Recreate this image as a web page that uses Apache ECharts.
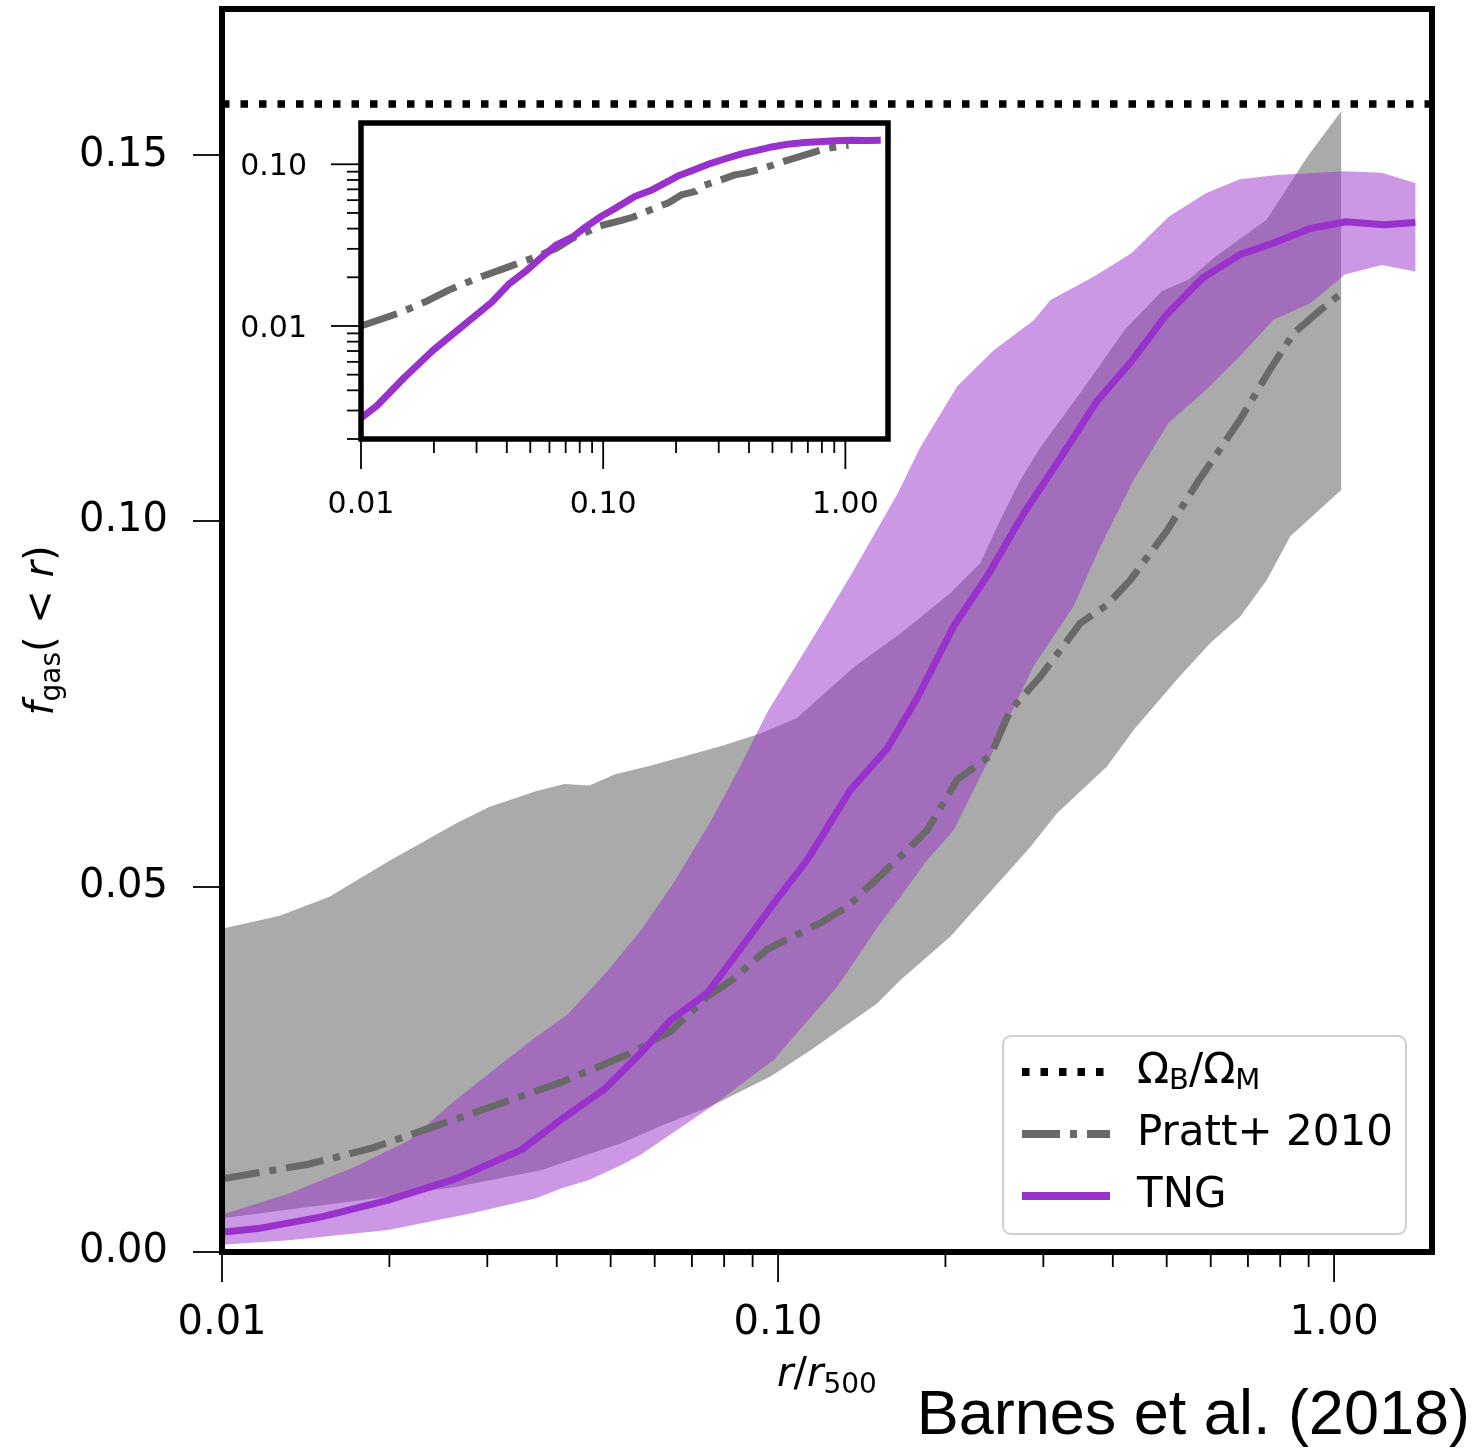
<!DOCTYPE html>
<html>
<head>
<meta charset="utf-8">
<script src="https://cdn.jsdelivr.net/npm/echarts@6/dist/echarts.min.js"></script>
<style>
  html, body { margin: 0; padding: 0; background: #ffffff; }
  #chart { width: 1473px; height: 1452px; }
</style>
</head>
<body>
<div id="chart"></div>
<script>
// ---- Gas fraction profiles, f_gas(<r) against r/r500 ----

// TNG median profile
const tngR = [0.01, 0.0116, 0.0151, 0.0199, 0.0263, 0.0346, 0.0407, 0.0486, 0.0558, 0.0641, 0.0746, 0.0845, 0.0983, 0.1128, 0.135, 0.157, 0.178, 0.207, 0.238, 0.2765, 0.322, 0.3757, 0.432, 0.497, 0.58, 0.677, 0.778, 0.908, 1.052, 1.227, 1.40];
const tngF = [0.0027, 0.0032, 0.0048, 0.0071, 0.0100, 0.0140, 0.0181, 0.0222, 0.0267, 0.0317, 0.0354, 0.0409, 0.0477, 0.0536, 0.0632, 0.0688, 0.0758, 0.0856, 0.0925, 0.1010, 0.1086, 0.1165, 0.1218, 0.1280, 0.1332, 0.1364, 0.1380, 0.1400, 0.1409, 0.1405, 0.1408];

// TNG scatter band (upper and lower edges)
const tngUpR = [0.01, 0.0132, 0.0174, 0.0217, 0.0263, 0.0362, 0.0419, 0.0493, 0.0564, 0.0644, 0.0757, 0.0852, 0.0959, 0.116, 0.135, 0.164, 0.180, 0.21, 0.244, 0.288, 0.309, 0.37, 0.432, 0.504, 0.588, 0.677, 0.789, 1.045, 1.218, 1.40];
const tngUpF = [0.0051, 0.0080, 0.0117, 0.0153, 0.0208, 0.0291, 0.0325, 0.0384, 0.0438, 0.0501, 0.0589, 0.0662, 0.0740, 0.0842, 0.0925, 0.1037, 0.1100, 0.1184, 0.1233, 0.1274, 0.1302, 0.1334, 0.1366, 0.1416, 0.1448, 0.1467, 0.1473, 0.1478, 0.1476, 0.1462];
const tngLoR = [0.01, 0.0132, 0.0199, 0.0281, 0.0366, 0.0407, 0.0456, 0.0523, 0.0566, 0.0756, 0.0983, 0.1278, 0.1529, 0.166, 0.1855, 0.207, 0.241, 0.288, 0.34, 0.38, 0.436, 0.504, 0.588, 0.677, 0.778, 0.908, 1.045, 1.218, 1.40];
const tngLoF = [0.0010, 0.0016, 0.0030, 0.0053, 0.0073, 0.0087, 0.0098, 0.0119, 0.0133, 0.0198, 0.0263, 0.0363, 0.0450, 0.0486, 0.0536, 0.0577, 0.0678, 0.0801, 0.0883, 0.0965, 0.1056, 0.1134, 0.1179, 0.1225, 0.1275, 0.1298, 0.1337, 0.1350, 0.1341];

// Pratt et al. 2010 observed profile
const prattR = [0.01, 0.0143, 0.0186, 0.0229, 0.0298, 0.0407, 0.0536, 0.0641, 0.0746, 0.0833, 0.0956, 0.1192, 0.1332, 0.1615, 0.1855, 0.21, 0.241, 0.2617, 0.2963, 0.3497, 0.3904, 0.43, 0.5, 0.574, 0.677, 0.767, 0.847, 0.947, 1.03];
const prattF = [0.0100, 0.0120, 0.0142, 0.0166, 0.0196, 0.0232, 0.0270, 0.0302, 0.0349, 0.0374, 0.0414, 0.0450, 0.0472, 0.0532, 0.0577, 0.0646, 0.0679, 0.0741, 0.0787, 0.0860, 0.0885, 0.0919, 0.0986, 0.1058, 0.1138, 0.1207, 0.1257, 0.1289, 0.1311];

// Pratt et al. 2010 scatter band
const prattUpR = [0.01, 0.0127, 0.0156, 0.020, 0.0265, 0.0303, 0.0367, 0.0413, 0.0458, 0.0508, 0.0589, 0.0791, 0.093, 0.108, 0.137, 0.166, 0.204, 0.231, 0.251, 0.2728, 0.296, 0.355, 0.42, 0.49, 0.548, 0.613, 0.757, 0.895, 1.03];
const prattUpF = [0.0442, 0.0460, 0.0486, 0.0535, 0.0587, 0.0609, 0.0630, 0.0640, 0.0638, 0.0653, 0.0665, 0.0692, 0.0709, 0.0730, 0.0800, 0.0846, 0.0901, 0.0942, 0.1001, 0.1056, 0.1100, 0.1182, 0.1261, 0.1314, 0.1330, 0.1362, 0.1412, 0.1498, 0.1560];
const prattLoR = [0.01, 0.0179, 0.0263, 0.0376, 0.0523, 0.0632, 0.0756, 0.0969, 0.1144, 0.1507, 0.166, 0.204, 0.2843, 0.3175, 0.3904, 0.436, 0.5216, 0.599, 0.678, 0.757, 0.834, 1.03];
const prattLoF = [0.0046, 0.0071, 0.0089, 0.0112, 0.0149, 0.0176, 0.0199, 0.0240, 0.0276, 0.0340, 0.0372, 0.0431, 0.0554, 0.0600, 0.0664, 0.0714, 0.0783, 0.0833, 0.0869, 0.0919, 0.0979, 0.1042];

// Cosmic baryon fraction
const omegaRatio = 0.157;
const omegaSpan = [0.01, 1.5];

// Axis ranges and ticks
const rRange = [0.01, 1.5];
const fRange = [0, 0.17];
const insetFRange = [0.002, 0.18];
const rMajorTicks = [0.01, 0.1, 1];
const rMajorLabels = ['0.01', '0.10', '1.00'];
const rMinorTicks = [0.02, 0.03, 0.04, 0.05, 0.06, 0.07, 0.08, 0.09, 0.2, 0.3, 0.4, 0.5, 0.6, 0.7, 0.8, 0.9];
const fTicks = [0, 0.05, 0.10, 0.15];
const insetFMajorTicks = [0.01, 0.1];
const insetFMajorLabels = ['0.01', '0.10'];
const insetFMinorTicks = [0.002, 0.003, 0.004, 0.005, 0.006, 0.007, 0.008, 0.009, 0.02, 0.03, 0.04, 0.05, 0.06, 0.07, 0.08, 0.09];

const seriesNames = ['Ω_B/Ω_M', 'Pratt+ 2010', 'TNG'];
const legendLabels = {
  'Ω_B/Ω_M': '{gap| }Ω{sub|B}/Ω{sub|M}',
  'Pratt+ 2010': '{gap| }Pratt+ 2010',
  'TNG': '{gap| }TNG'
};

// ---- styling ----
const FONT = '"DejaVu Sans", "Noto Sans", sans-serif';
const PURPLE = '#9932CC';
const PURPLE_FILL = 'rgba(153, 50, 204, 0.5)';
const GREY_FILL = '#AAAAAA';
const GREY_LINE = '#696969';
const DASHDOT = [38, 10, 7, 10];
const DOTTED = [7.5, 11];

const pairs = (xs, ys) => xs.map((x, i) => [x, ys[i]]);

// closed polygon between an upper and a lower edge
function bandItem(upR, upF, loR, loF, fill) {
  return function (params, api) {
    const pts = [];
    for (let i = 0; i < upR.length; i++) pts.push(api.coord([upR[i], upF[i]]));
    for (let i = loR.length - 1; i >= 0; i--) pts.push(api.coord([loR[i], loF[i]]));
    return { type: 'polygon', shape: { points: pts }, style: { fill: fill } };
  };
}

function textStyle(txt, size, align, vAlign) {
  return {
    text: txt, fontSize: size, fontFamily: FONT,
    font: size + 'px ' + FONT,
    fill: '#000', textFill: '#000',
    align: align, textAlign: align,
    verticalAlign: vAlign, textVerticalAlign: vAlign
  };
}

// ticks hanging below a log x axis, optionally labelled
function xTickItem(len, labels, size, labelOffset) {
  return function (params, api) {
    const p = api.coord([api.value(0), api.value(1)]);
    const children = [{
      type: 'line',
      shape: { x1: p[0], y1: p[1], x2: p[0], y2: p[1] + len },
      style: { stroke: '#000', lineWidth: 1.8 }
    }];
    if (labels) {
      children.push({ type: 'text', x: p[0], y: p[1] + labelOffset,
        style: textStyle(labels[params.dataIndex], size, 'center', 'middle') });
    }
    return { type: 'group', children: children };
  };
}

// ticks left of a log y axis, optionally labelled
function yTickItem(len, labels, size, labelOffset) {
  return function (params, api) {
    const p = api.coord([api.value(0), api.value(1)]);
    const children = [{
      type: 'line',
      shape: { x1: p[0] - len, y1: p[1], x2: p[0], y2: p[1] },
      style: { stroke: '#000', lineWidth: 1.8 }
    }];
    if (labels) {
      children.push({ type: 'text', x: p[0] - labelOffset, y: p[1] + 3,
        style: textStyle(labels[params.dataIndex], size, 'right', 'middle') });
    }
    return { type: 'group', children: children };
  };
}

function tickSeries(xIdx, yIdx, data, renderItem) {
  return { type: 'custom', xAxisIndex: xIdx, yAxisIndex: yIdx, silent: true,
    clip: false, z: 3, data: data, renderItem: renderItem };
}

function lineSeries(name, xIdx, yIdx, data, color, width, dash) {
  return {
    name: name, type: 'line', xAxisIndex: xIdx, yAxisIndex: yIdx,
    data: data, symbol: 'none', showSymbol: false, silent: true, clip: true,
    emphasis: { disabled: true },
    itemStyle: { color: color, opacity: 0 },
    lineStyle: { color: color, width: width, type: dash || 'solid', cap: 'butt', join: 'round' }
  };
}

const chart = echarts.init(document.getElementById('chart'), null, { renderer: 'canvas' });

const option = {
  animation: false,
  backgroundColor: '#ffffff',
  grid: [
    { left: 222, right: 41, top: 9, bottom: 200, show: true, z: 10,
      backgroundColor: 'transparent', borderColor: '#000', borderWidth: 6 },
    { left: 361, right: 585, top: 123, bottom: 1013, show: true, z: 10,
      backgroundColor: 'transparent', borderColor: '#000', borderWidth: 5.5 }
  ],
  xAxis: [
    {
      type: 'log', logBase: 10, gridIndex: 0, min: rRange[0], max: rRange[1],
      axisLine: { show: false }, axisTick: { show: false }, axisLabel: { show: false },
      splitLine: { show: false }, minorTick: { show: false },
      name: '{it|r}/{it|r}{sub|500}', nameLocation: 'middle', nameGap: 100,
      nameTextStyle: {
        fontSize: 40, fontFamily: FONT, color: '#000', lineHeight: 48,
        rich: {
          it: { fontSize: 40, fontStyle: 'italic', fontFamily: FONT, lineHeight: 48 },
          sub: { fontSize: 28, fontFamily: FONT, lineHeight: 26, verticalAlign: 'bottom' }
        }
      }
    },
    {
      type: 'log', logBase: 10, gridIndex: 1, min: rRange[0], max: rRange[1],
      axisLine: { show: false }, axisTick: { show: false }, axisLabel: { show: false },
      splitLine: { show: false }
    }
  ],
  yAxis: [
    {
      type: 'value', gridIndex: 0, min: fRange[0], max: fRange[1], interval: 0.05,
      axisLine: { show: false },
      axisTick: { show: true, inside: false, length: 29, customValues: fTicks,
        lineStyle: { color: '#000', width: 1.8 } },
      axisLabel: { show: true, customValues: fTicks, margin: 54, fontSize: 40,
        fontFamily: FONT, color: '#000', padding: [6, 0, 0, 0], formatter: v => v.toFixed(2) },
      splitLine: { show: false },
      name: '{it|f}{sub|gas}( < {it|r})', nameLocation: 'middle', nameRotate: 90, nameGap: 155,
      nameTextStyle: {
        fontSize: 40, fontFamily: FONT, color: '#000', lineHeight: 48,
        rich: {
          it: { fontSize: 40, fontStyle: 'italic', fontFamily: FONT, lineHeight: 48 },
          sub: { fontSize: 28, fontFamily: FONT, lineHeight: 26, verticalAlign: 'bottom' }
        }
      }
    },
    {
      type: 'log', logBase: 10, gridIndex: 1, min: insetFRange[0], max: insetFRange[1],
      axisLine: { show: false }, axisTick: { show: false }, axisLabel: { show: false },
      splitLine: { show: false }
    }
  ],
  legend: {
    show: true, orient: 'vertical', left: 1003, top: 1036,
    data: seriesNames, selectedMode: false,
    backgroundColor: 'rgba(255,255,255,0.85)', borderColor: '#cfcfcf', borderWidth: 2,
    borderRadius: 8, padding: [12, 13, 14, 15],
    itemWidth: 88, itemHeight: 20, itemGap: 14,
    itemStyle: { opacity: 0 },
    lineStyle: { width: 8 },
    formatter: name => legendLabels[name],
    textStyle: {
      fontSize: 42, fontFamily: FONT, color: '#000', lineHeight: 48,
      rich: {
        gap: { width: 22, fontSize: 42, lineHeight: 48 },
        sub: { fontSize: 29, fontFamily: FONT, lineHeight: 26, verticalAlign: 'bottom' }
      }
    }
  },
  graphic: [
    { type: 'text', x: 1470, y: 1417, z: 20, silent: true,
      style: {
        text: 'Barnes et al. (2018)', fontSize: 63, fontFamily: '"Liberation Sans", Arial, sans-serif',
        font: '63px "Liberation Sans", Arial, sans-serif',
        fill: '#000', textFill: '#000', align: 'right', textAlign: 'right',
        verticalAlign: 'middle', textVerticalAlign: 'middle'
      } }
  ],
  series: [
    // main panel: bands and profiles
    { type: 'custom', name: 'prattBand', xAxisIndex: 0, yAxisIndex: 0, silent: true,
      data: [[prattUpR[0], prattUpF[0]]], renderItem: bandItem(prattUpR, prattUpF, prattLoR, prattLoF, GREY_FILL) },
    lineSeries('Pratt+ 2010', 0, 0, pairs(prattR, prattF), GREY_LINE, 7, DASHDOT),
    { type: 'custom', name: 'tngBand', xAxisIndex: 0, yAxisIndex: 0, silent: true,
      data: [[tngUpR[0], tngUpF[0]]], renderItem: bandItem(tngUpR, tngUpF, tngLoR, tngLoF, PURPLE_FILL) },
    lineSeries('TNG', 0, 0, pairs(tngR, tngF), PURPLE, 7),
    lineSeries('Ω_B/Ω_M', 0, 0, [[omegaSpan[0], omegaRatio], [omegaSpan[1], omegaRatio]], '#000', 7.5, DOTTED),

    // inset: same profiles on logarithmic axes
    lineSeries('Pratt+ 2010 inset', 1, 1, pairs(prattR, prattF), GREY_LINE, 7, DASHDOT),
    lineSeries('TNG inset', 1, 1, pairs(tngR, tngF), PURPLE, 7),

    // main panel x ticks
    tickSeries(0, 0, rMajorTicks.map(v => [v, fRange[0]]), xTickItem(30, rMajorLabels, 40, 72)),
    tickSeries(0, 0, rMinorTicks.map(v => [v, fRange[0]]), xTickItem(15)),

    // inset ticks
    tickSeries(1, 1, rMajorTicks.map(v => [v, insetFRange[0]]), xTickItem(30, rMajorLabels, 30, 66)),
    tickSeries(1, 1, rMinorTicks.map(v => [v, insetFRange[0]]), xTickItem(14)),
    tickSeries(1, 1, insetFMajorTicks.map(v => [rRange[0], v]), yTickItem(30, insetFMajorLabels, 30, 54)),
    tickSeries(1, 1, insetFMinorTicks.map(v => [rRange[0], v]), yTickItem(14))
  ]
};

chart.setOption(option);
</script>
</body>
</html>
